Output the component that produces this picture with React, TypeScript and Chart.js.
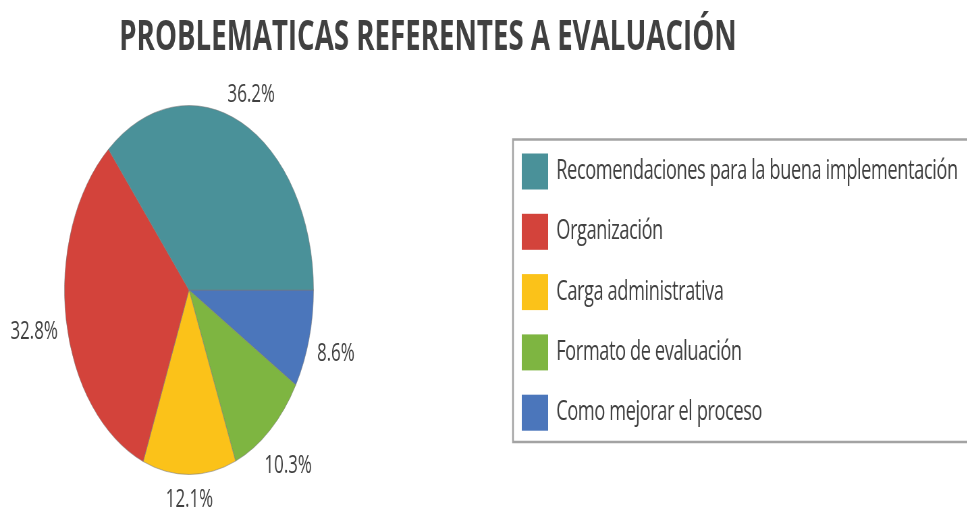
import React, { useEffect, useRef } from "react";
import { Chart, registerables } from "chart.js";

Chart.register(...registerables);

const TITLE = "PROBLEMATICAS REFERENTES A EVALUACIÓN";
const categories = [
  "Recomendaciones para la buena implementación",
  "Organización",
  "Carga administrativa",
  "Formato de evaluación",
  "Como mejorar el proceso",
];
const values = [36.2, 32.8, 12.1, 10.3, 8.6];
const colors = ["#4A9199", "#D3433B", "#FBC219", "#7EB541", "#4B76BB"];

const SCALE_X = 0.675;
const W = 1433;
const H = 510;
const TEXT_COLOR = "#404040";
const FONT = "'Open Sans', 'DejaVu Sans', sans-serif";

const titlePlugin = {
  id: "customTitle",
  afterDraw(chart: any) {
    const ctx = chart.ctx;
    ctx.save();
    ctx.font = `bold 41px ${FONT}`;
    ctx.fillStyle = TEXT_COLOR;
    ctx.textAlign = "center";
    ctx.textBaseline = "alphabetic";
    ctx.fillText(TITLE, 634, 50);
    ctx.restore();
  },
};

const pctLabelPlugin = {
  id: "pctLabels",
  afterDatasetsDraw(chart: any) {
    const ctx = chart.ctx;
    const meta = chart.getDatasetMeta(0);
    const data = chart.data.datasets[0].data as number[];
    ctx.save();
    ctx.font = `25px ${FONT}`;
    ctx.fillStyle = TEXT_COLOR;
    ctx.textAlign = "center";
    ctx.textBaseline = "middle";
    meta.data.forEach((arc: any, i: number) => {
      const p = arc.getProps(["x", "y", "startAngle", "endAngle", "outerRadius"], true);
      const mid = (p.startAngle + p.endAngle) / 2;
      const text = data[i].toFixed(1) + "%";
      const w = ctx.measureText(text).width;
      const h = 18;
      const c = Math.cos(mid);
      const s = Math.sin(mid);
      const d = p.outerRadius + 12 + Math.abs(c) * w / 2 + Math.abs(s) * h / 2;
      ctx.fillText(text, p.x + c * d, p.y + s * d + 4);
    });
    ctx.restore();
  },
};

const legendPlugin = {
  id: "boxLegend",
  afterDraw(chart: any) {
    const ctx = chart.ctx;
    ctx.save();
    ctx.strokeStyle = "#a3a3a3";
    ctx.lineWidth = 2.5;
    ctx.strokeRect(760, 139.5, W + 20, 302.5);
    ctx.font = `27px ${FONT}`;
    (ctx as any).letterSpacing = "-0.6px";
    ctx.textBaseline = "middle";
    ctx.textAlign = "left";
    categories.forEach((label, i) => {
      const cy = 171.5 + i * 60.3;
      ctx.fillStyle = colors[i];
      ctx.fillRect(773, cy - 18, 39, 36);
      ctx.fillStyle = TEXT_COLOR;
      ctx.fillText(label, 824, cy);
    });
    ctx.restore();
  },
};

export default function App() {
  const canvasRef = useRef<HTMLCanvasElement | null>(null);

  useEffect(() => {
    if (!canvasRef.current) return;
    // Chart.js draws clockwise; the reference runs counter-clockwise from 3 o'clock,
    // so the series is fed in reverse order.
    const revLabels = [...categories].reverse();
    const revValues = [...values].reverse();
    const revColors = [...colors].reverse();
    const chart = new Chart(canvasRef.current, {
      type: "pie",
      data: {
        labels: revLabels,
        datasets: [
          {
            data: revValues,
            backgroundColor: revColors,
            borderColor: "rgba(120,120,120,0.55)",
            borderWidth: 1,
          },
        ],
      },
      options: {
        responsive: false,
        animation: false,
        rotation: 90,
        layout: { padding: { left: 95, top: 105, right: W - 465, bottom: 35 } },
        plugins: {
          legend: { display: false },
          title: { display: false },
          tooltip: { enabled: false },
        },
      },
      plugins: [titlePlugin, pctLabelPlugin, legendPlugin],
    });
    return () => chart.destroy();
  }, []);

  return (
    <div
      style={{
        position: "fixed",
        left: 0,
        top: 0,
        width: 967,
        height: 510,
        overflow: "hidden",
        background: "#ffffff",
      }}
    >
      <div
        style={{
          width: W,
          height: H,
          transform: `scaleX(${SCALE_X})`,
          transformOrigin: "0 0",
        }}
      >
        <canvas ref={canvasRef} width={W} height={H} style={{ display: "block" }} />
      </div>
    </div>
  );
}
